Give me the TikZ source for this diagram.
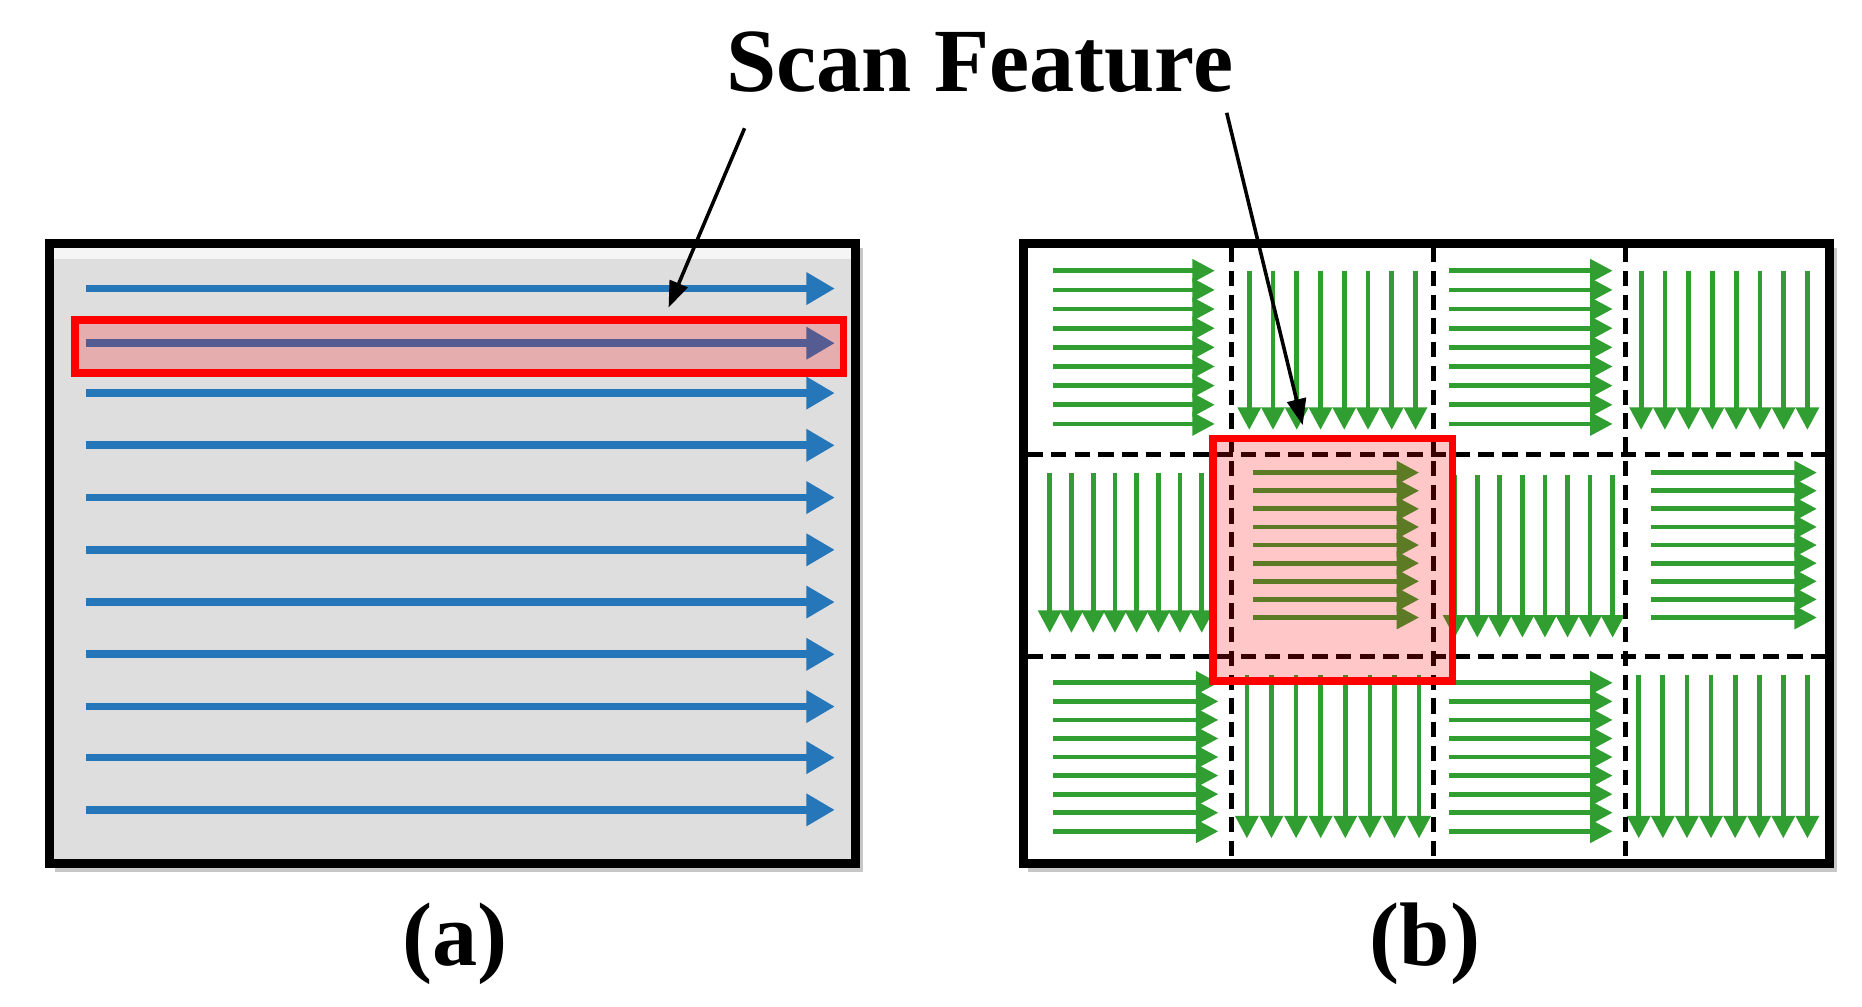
\documentclass[tikz,border=0pt]{standalone}
\usepackage{fontspec}
\setmainfont{Liberation Serif}
\usetikzlibrary{arrows.meta}
\definecolor{bluearr}{RGB}{38,118,186}
\definecolor{greenarr}{RGB}{48,158,48}
\definecolor{panelgray}{RGB}{222,222,222}
\tikzset{
  blue arrow/.style={draw=bluearr,line width=6.5pt,-{Triangle[length=24pt,width=26pt]}},
  green arrow/.style={draw=greenarr,line width=4pt,-{Triangle[length=19pt,width=19pt]}},
  frame/.style={draw=black,line width=7.5pt},
  grid line/.style={draw=black,line width=4.5pt,dash pattern=on 13pt off 7pt},
  hilite/.style={draw=red,line width=6.5pt,fill=red,fill opacity=0.22},
  pointer/.style={draw=black,line width=3pt,-{Triangle[length=22pt,width=16pt]}},
  lbl/.style={font=\fontsize{76}{80}\selectfont\bfseries,inner sep=0pt}
}
\begin{document}
\begin{tikzpicture}[x=1pt,y=-1pt]
\useasboundingbox (0,0) rectangle (1568,848);
% panel a
\fill[black!22] (46,209) rectangle (727,734);
\node[fill=panelgray,minimum width=678pt,minimum height=522pt,inner sep=0pt,anchor=north west] (pa) at (42,205) {};
\fill[white,opacity=0.7] (45,208) rectangle (717,218);
\foreach \y [count=\i] in {243,289,331,375,419,463,507,551,595,638,682}{
  \coordinate (as\i) at (72,\y); \coordinate (ae\i) at (703,\y);
  \draw[blue arrow] (as\i) -- (ae\i);
}
\node[hilite,minimum width=647pt,minimum height=45pt,inner sep=0pt,anchor=north west] (ra) at (60,266) {};
\draw[frame] (pa.north west) rectangle (pa.south east);
% panel b
\fill[black!22] (866,209) rectangle (1547,734);
\node[fill=white,minimum width=678pt,minimum height=522pt,inner sep=0pt,anchor=north west] (pb) at (862,205) {};
% green arrows: horizontal cells
\foreach \xa/\xb/\ya/\yb in {887/1023/228/357, 1220/1358/228/357, 1055/1195/398/520, 1390/1530/398/520, 887/1026/575/700, 1220/1358/575/700}{
  \foreach \k in {0,...,8}{
    \coordinate (hs) at (\xa,{\ya+\k*(\yb-\ya)/8});
    \coordinate (he) at (\xb,{\ya+\k*(\yb-\ya)/8});
    \draw[green arrow] (hs) -- (he);
  }
}
% vertical cells
\foreach \xa/\xb/\ya/\yb in {1052/1192/228/362, 1382/1522/228/362, 884/1012/398/533, 1225/1358/400/537, 1050/1195/568/706, 1380/1522/568/706}{
  \foreach \k in {0,...,7}{
    \coordinate (vs) at ({\xa+\k*(\xb-\xa)/7},\ya);
    \coordinate (ve) at ({\xa+\k*(\xb-\xa)/7},\yb);
    \draw[green arrow] (vs) -- (ve);
  }
}
% grid
\foreach \x in {1037,1207,1369}{
  \coordinate (gt) at (\x,208); \coordinate (gb) at (\x,724);
  \draw[grid line] (gt) -- (gb);
}
\foreach \y in {383,553}{
  \coordinate (gl) at (865,\y); \coordinate (gr) at (1537,\y);
  \draw[grid line] (gl) -- (gr);
}
\node[hilite,minimum width=202pt,minimum height=204pt,inner sep=0pt,anchor=north west] (rb) at (1018,366) {};
\draw[frame] (pb.north west) rectangle (pb.south east);
% title and pointers
\node[lbl] (title) at (825,52) {Scan Feature};
\coordinate (p1s) at (627,108); \coordinate (p1e) at (563,259);
\coordinate (p2s) at (1033,95); \coordinate (p2e) at (1097,358);
\draw[pointer] (p1s) -- (p1e);
\draw[pointer] (p2s) -- (p2e);
\node[lbl] (la) at (383,795) {(a)};
\node[lbl] (lb) at (1200,795) {(b)};
\end{tikzpicture}
\end{document}
